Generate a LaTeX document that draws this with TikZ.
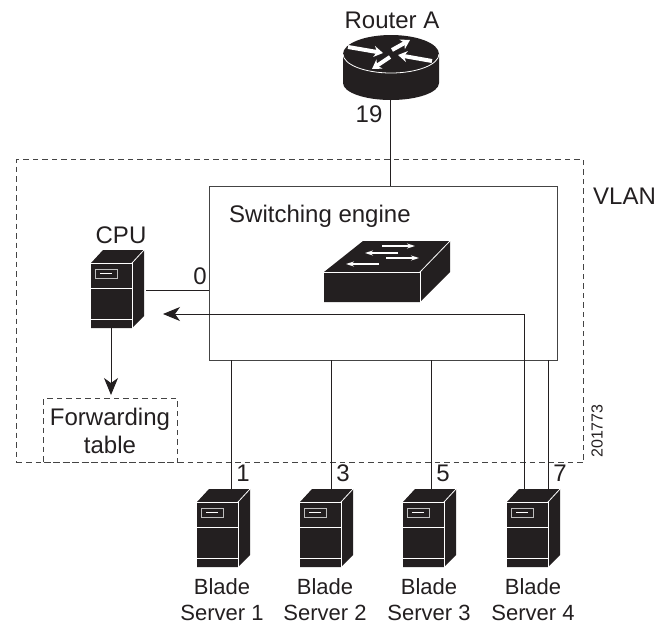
\documentclass[tikz,border=0pt]{standalone}
\usepackage{fontspec}
\setmainfont{Liberation Sans}
\usetikzlibrary{arrows.meta}
\definecolor{icon}{HTML}{231F20}
\definecolor{boxline}{HTML}{444444}
\tikzset{
    lbl/.style={inner sep=0pt, font=\fontsize{24}{26}\selectfont, text=icon, align=center},
    dashbox/.style={draw=boxline, line width=1pt, dash pattern=on 5.5pt off 4pt, anchor=north west, inner sep=0pt},
    wire/.style={draw=icon, line width=1pt},
    whitearrow/.style={white, line width=4pt, -{Stealth[length=9pt,width=11pt]}},
    thinarrow/.style={white, line width=1.2pt, -{Stealth[length=8pt,width=5pt]}},
    pics/servericon/.style={code={
        \fill[icon] (0,0) -- (12,-13) -- (53,-13) -- (53,53) -- (41,65) -- (0,65) -- cycle;
        \draw[white, line width=0.8pt] (0,0) -- (41,0) -- (41,65);
        \draw[white, line width=0.8pt] (41,0) -- (53,-13);
        \draw[white, line width=0.8pt] (0,25) -- (41,25);
        \draw[white, line width=0.8pt] (0,56) -- (41,56);
        \draw[white!75!black, line width=0.8pt] (4,6) rectangle (26,15);
        \draw[white, line width=0.8pt] (9,10.5) -- (21,10.5);
    }}
}
\begin{document}
\begin{tikzpicture}[x=1pt,y=-1pt]
    \useasboundingbox (0,0) rectangle (656,625);

    % boxes
    \node[dashbox, minimum width=567pt, minimum height=303pt] (vlan) at (16,159) {};
    \node[dashbox, minimum width=134pt, minimum height=64pt] (fwd) at (43,398) {};
    \node[draw=boxline, line width=1.2pt, anchor=north west, inner sep=0pt, minimum width=348pt, minimum height=174pt] (engine) at (209,186) {};

    % router
    \fill[icon] (343,54) -- (343,83) arc[start angle=180, end angle=0, x radius=48, y radius=17] -- (439,54) -- cycle;
    \fill[icon] (391,54) ellipse[x radius=48, y radius=19];
    \draw[white, line width=0.8pt] (343,54) arc[start angle=180, end angle=0, x radius=48, y radius=19];
    \draw[whitearrow] (348,47) -- (383,53);
    \draw[whitearrow] (392,50) -- (410,40);
    \draw[whitearrow] (432,61) -- (398,55);
    \draw[whitearrow] (390,57) -- (372,69);
    \coordinate (routerport) at (390,100);

    % switch
    \fill[icon] (324,272) -- (363,241) -- (450,241) -- (450,272) -- (420,302) -- (324,302) -- cycle;
    \draw[white, line width=0.8pt] (324,272) -- (420,272) -- (420,302);
    \draw[white, line width=0.8pt] (420,272) -- (450,241);
    \draw[thinarrow] (382,246) -- (415,246);
    \draw[thinarrow] (398,253) -- (365,253);
    \draw[thinarrow] (386,258) -- (419,258);
    \draw[thinarrow] (379,264) -- (346,264);

    % servers
    \pic at (91,263) {servericon};
    \pic at (197,502) {servericon};
    \pic at (300,502) {servericon};
    \pic at (403,502) {servericon};
    \pic at (507,502) {servericon};
    \coordinate (cpuport) at (146,290);
    \coordinate (cpubot) at (111,328);
    \coordinate (arrowend) at (163,314);
    \coordinate (arrowbend) at (524,314);
    \coordinate (blade1) at (231,489);
    \coordinate (blade2) at (331,489);
    \coordinate (blade3) at (431,489);
    \coordinate (blade4) at (524,489);
    \coordinate (blade4b) at (548,489);
    \coordinate (engine1) at (231,360);
    \coordinate (engine2) at (331,360);
    \coordinate (engine3) at (431,360);
    \coordinate (engine4) at (548,360);
    \coordinate (engineleft) at (209,290);
    \coordinate (enginetop) at (390,186);
    \coordinate (fwdtop) at (111,395);

    % connectors
    \draw[wire] (routerport) -- (enginetop);
    \draw[wire] (cpuport) -- (engineleft);
    \draw[wire] (engine1) -- (blade1);
    \draw[wire] (engine2) -- (blade2);
    \draw[wire] (engine3) -- (blade3);
    \draw[wire] (engine4) -- (blade4b);
    \draw[wire, -{Stealth[length=17pt,width=14pt,inset=5pt]}] (blade4) -- (arrowbend) -- (arrowend);
    \draw[wire, -{Stealth[length=17pt,width=14pt,inset=5pt]}] (cpubot) -- (fwdtop);

    % labels
    \node[lbl] (routerlbl) at (392,20) {Router A};
    \node[lbl] (port19) at (369,114) {19};
    \node[lbl, anchor=west] (vlanlbl) at (593,196) {VLAN};
    \node[lbl, anchor=west] (enginelbl) at (229,216) {Switching engine};
    \node[lbl] (cpulbl) at (121,235) {CPU};
    \node[lbl] (port0) at (200,276) {0};
    \node[lbl, font=\fontsize{24}{28}\selectfont] (fwdlbl) at (110,431) {Forwarding\\table};
    \node[lbl] (port1) at (243,473) {1};
    \node[lbl] (port3) at (343,473) {3};
    \node[lbl] (port5) at (443,473) {5};
    \node[lbl] (port7) at (560,473) {7};
    \node[inner sep=0pt, rotate=90, text=icon, font=\fontsize{16}{18}\selectfont] (figid) at (597,431) {201773};
    \node[lbl, font=\fontsize{22}{26}\selectfont] (lbl1) at (222,600) {Blade\\Server 1};
    \node[lbl, font=\fontsize{22}{26}\selectfont] (lbl2) at (325,600) {Blade\\Server 2};
    \node[lbl, font=\fontsize{22}{26}\selectfont] (lbl3) at (429,600) {Blade\\Server 3};
    \node[lbl, font=\fontsize{22}{26}\selectfont] (lbl4) at (533,600) {Blade\\Server 4};
\end{tikzpicture}
\end{document}
